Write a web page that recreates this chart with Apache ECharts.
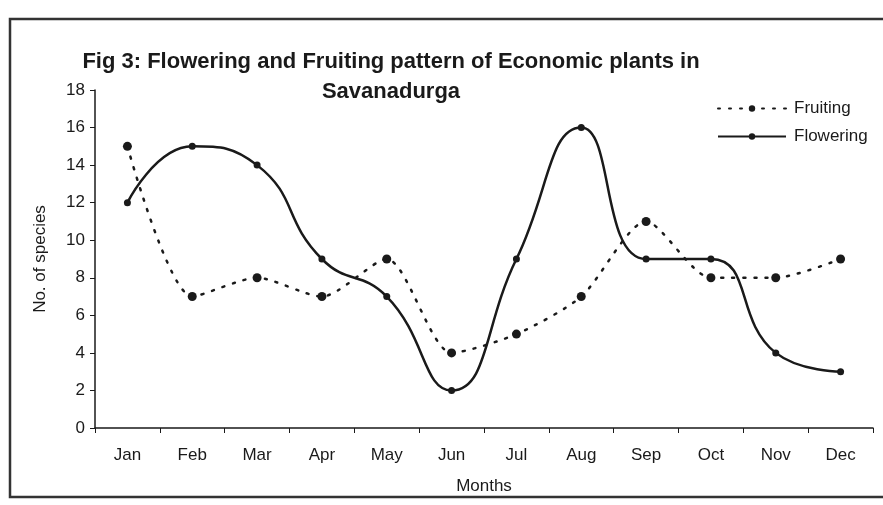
<!DOCTYPE html>
<html>
<head>
<meta charset="utf-8">
<script src="https://cdn.jsdelivr.net/npm/echarts@6/dist/echarts.min.js"></script>
<style>
  html, body {margin: 0; padding: 0; background: #fff;}
  #chart {width: 883px; height: 505px;}
</style>
</head>
<body>
<div id="chart"></div>
<script>
const months = ['Jan', 'Feb', 'Mar', 'Apr', 'May', 'Jun', 'Jul', 'Aug', 'Sep', 'Oct', 'Nov', 'Dec']
const fruiting = [15, 7, 8, 7, 9, 4, 5, 7, 11, 8, 8, 9]
const flowering = [12, 15, 14, 9, 7, 2, 9, 16, 9, 9, 4, 3]

const ink = '#1a1a1a'
const font = 'Liberation Sans, Arial, sans-serif'

const chart = echarts.init(document.getElementById('chart'))

chart.setOption({
  backgroundColor: '#fff',
  animation: false,
  title: {
    text: 'Fig 3: Flowering and Fruiting pattern of Economic plants in\nSavanadurga',
    left: 386,
    top: 42,
    textAlign: 'center',
    textStyle: {fontFamily: font, fontSize: 22, fontWeight: 'bold', color: ink, lineHeight: 30}
  },
  graphic: [{
    type: 'rect',
    shape: {x: 10, y: 19, width: 900, height: 478},
    style: {fill: 'none', stroke: '#333', lineWidth: 2.5},
    silent: true
  }],
  legend: {
    orient: 'vertical',
    left: 712,
    top: 95,
    itemWidth: 68,
    itemHeight: 8,
    itemGap: 11,
    textStyle: {fontFamily: font, fontSize: 17, color: ink, padding: [0, 0, 0, 3]},
    data: ['Fruiting', 'Flowering']
  },
  grid: {left: 95, right: 10, top: 90, bottom: 77},
  xAxis: {
    type: 'category',
    data: months,
    boundaryGap: true,
    name: 'Months',
    nameLocation: 'middle',
    nameGap: 50,
    nameTextStyle: {fontFamily: font, fontSize: 17, color: ink},
    axisLine: {lineStyle: {color: ink, width: 1.5}},
    axisTick: {show: true, length: 5, inside: false, lineStyle: {color: ink}},
    axisLabel: {fontFamily: font, fontSize: 17, color: ink, margin: 19}
  },
  yAxis: {
    type: 'value',
    min: 0,
    max: 18,
    interval: 2,
    name: 'No. of species',
    nameLocation: 'middle',
    nameGap: 46,
    nameTextStyle: {fontFamily: font, fontSize: 17, color: ink},
    axisLine: {show: true, lineStyle: {color: ink, width: 1.5}},
    axisTick: {show: true, length: 5, lineStyle: {color: ink}},
    axisLabel: {fontFamily: font, fontSize: 17, color: ink, margin: 10},
    splitLine: {show: false}
  },
  series: [
    {
      name: 'Fruiting',
      type: 'line',
      data: fruiting,
      smooth: 0.25,
      symbol: 'circle',
      symbolSize: 9,
      itemStyle: {color: ink},
      lineStyle: {color: ink, width: 2.5, type: [2, 9], cap: 'round'}
    },
    {
      name: 'Flowering',
      type: 'line',
      data: flowering,
      smooth: 0.5,
      symbol: 'circle',
      symbolSize: 7,
      itemStyle: {color: ink},
      lineStyle: {color: ink, width: 2.5}
    }
  ]
})
</script>
</body>
</html>
